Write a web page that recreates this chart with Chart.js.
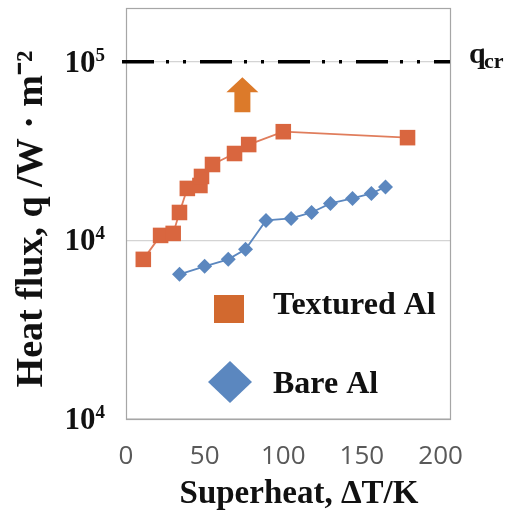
<!DOCTYPE html>
<html>
<head>
<meta charset="utf-8">
<script src="https://cdn.jsdelivr.net/npm/chart.js@4.4.1/dist/chart.umd.min.js"></script>
<style>
  html, body { margin: 0; padding: 0; background: #fff; }
  #wrap { width: 512px; height: 514px; }
</style>
</head>
<body>
<div id="wrap"><canvas id="myChart" width="512" height="514"></canvas></div>
<script>
// data
const texturedX = [11, 22, 30, 34, 39, 47, 48, 55, 69, 78, 100, 179];
const texturedY = [7830, 10660, 10940, 14330, 19540, 20290, 22800, 26600, 30650, 34400, 40600, 37600];
const bareX = [34, 50, 65, 76, 89, 105, 118, 130, 144, 156, 165];
const bareY = [6460, 7160, 7830, 8910, 12930, 13280, 14330, 16110, 17170, 18320, 19900];

const xTicks = [0, 50, 100, 150, 200];
const yTicks = [1000, 10000, 100000];
const yTickExp = ['4', '4', '5'];   // exponents as printed on the original (10^4, 10^4, 10^5)
const seriesNames = ['Textured Al', 'Bare Al'];
const qCritical = 100000;
const arrowX = 74, arrowFrom = 52100, arrowTo = 81900;

const serif = '"Liberation Serif", "Times New Roman", serif';

const toPoints = (xs, ys) => xs.map((x, i) => ({ x: x, y: ys[i] }));

const extras = {
    id: 'extras',
    beforeDatasetsDraw(chart) {
        const ctx = chart.ctx;
        const a = chart.chartArea;
        const xs = chart.scales.x, ys = chart.scales.y;
        ctx.save();
        // box
        ctx.strokeStyle = '#a6a6a6';
        ctx.lineWidth = 1.2;
        ctx.strokeRect(a.left + 0.5, a.top + 0.5, a.right - a.left, a.bottom - a.top);

        // critical heat flux line
        const yq = ys.getPixelForValue(qCritical);
        ctx.strokeStyle = '#000';
        ctx.lineWidth = 3.5;
        ctx.setLineDash([32, 12, 3, 14, 3, 14]);
        ctx.beginPath();
        ctx.moveTo(a.left - 4, yq);
        ctx.lineTo(a.right, yq);
        ctx.stroke();
        ctx.setLineDash([]);

        // arrow
        const ax = xs.getPixelForValue(arrowX);
        const yb = ys.getPixelForValue(arrowFrom);
        const yt = ys.getPixelForValue(arrowTo);
        const head = 15;
        ctx.fillStyle = '#dc7a2a';
        ctx.beginPath();
        ctx.moveTo(ax - 8, yb);
        ctx.lineTo(ax + 8, yb);
        ctx.lineTo(ax + 8, yt + head);
        ctx.lineTo(ax + 16, yt + head);
        ctx.lineTo(ax, yt);
        ctx.lineTo(ax - 16, yt + head);
        ctx.lineTo(ax - 8, yt + head);
        ctx.closePath();
        ctx.fill();
        ctx.restore();
    },
    afterDraw(chart) {
        const ctx = chart.ctx;
        const a = chart.chartArea;
        const ys = chart.scales.y;
        ctx.save();
        ctx.fillStyle = '#111';
        ctx.textBaseline = 'alphabetic';

        // y tick labels: 10 with raised exponent
        yTicks.forEach((v, i) => {
            const py = ys.getPixelForValue(v);
            ctx.textAlign = 'right';
            ctx.font = 'bold 19px ' + serif;
            const ew = ctx.measureText(yTickExp[i]).width;
            ctx.fillText(yTickExp[i], 105, py - 1);
            ctx.font = 'bold 31px ' + serif;
            ctx.fillText('10', 105 - ew, py + 10);
        });

        // q_cr label
        const yq = ys.getPixelForValue(qCritical);
        ctx.textAlign = 'left';
        ctx.font = 'bold 30px ' + serif;
        ctx.fillText('q', a.right + 19, yq + 1);
        ctx.font = 'bold 22px ' + serif;
        ctx.fillText('cr', a.right + 34, yq + 6);

        // legend
        ctx.fillStyle = '#d2692f';
        ctx.fillRect(214, 295, 30, 28);
        ctx.fillStyle = '#5b87bf';
        ctx.beginPath();
        ctx.moveTo(230, 361);
        ctx.lineTo(252, 382);
        ctx.lineTo(230, 403);
        ctx.lineTo(208, 382);
        ctx.closePath();
        ctx.fill();
        ctx.fillStyle = '#111';
        ctx.font = 'bold 32px ' + serif;
        ctx.fillText(seriesNames[0], 273, 314);
        ctx.fillText(seriesNames[1], 273, 393);

        // axis titles
        ctx.textAlign = 'center';
        ctx.font = 'bold 33px ' + serif;
        ctx.fillText('Superheat, ΔT/K', 299, 503);
        ctx.translate(42, 219);
        ctx.rotate(-Math.PI / 2);
        ctx.font = 'bold 38px ' + serif;
        ctx.fillText('Heat flux, q /W · m⁻²', 0, 0);
        ctx.restore();
    }
};

const ctx = document.getElementById('myChart').getContext('2d');
const myChart = new Chart(ctx, {
    type: 'scatter',
    data: {
        datasets: [{
            label: seriesNames[0],
            data: toPoints(texturedX, texturedY),
            showLine: true,
            borderColor: '#e07d5c',
            borderWidth: 1.8,
            backgroundColor: '#d9663f',
            pointStyle: 'rect',
            pointRadius: 11,
            pointBorderColor: '#d9663f',
            pointBorderWidth: 0
        }, {
            label: seriesNames[1],
            data: toPoints(bareX, bareY),
            showLine: true,
            borderColor: '#5b87bf',
            borderWidth: 1.8,
            backgroundColor: '#5b87bf',
            pointStyle: 'rectRot',
            pointRadius: 7.5,
            pointBorderColor: '#5b87bf',
            pointBorderWidth: 0
        }]
    },
    options: {
        responsive: false,
        animation: false,
        layout: { autoPadding: false, padding: { top: 8, right: 62, left: 0, bottom: 0 } },
        plugins: { legend: { display: false }, tooltip: { enabled: false } },
        scales: {
            x: {
                type: 'linear',
                min: 0,
                max: 206,
                afterBuildTicks: s => { s.ticks = xTicks.map(v => ({ value: v })); },
                afterFit: s => { s.height = 95; s.paddingLeft = 0; s.paddingRight = 0; },
                grid: { display: false, drawTicks: false },
                border: { display: false },
                ticks: {
                    padding: 22,
                    color: '#595959',
                    font: { family: '"Open Sans", sans-serif', size: 26 },
                    maxRotation: 0
                }
            },
            y: {
                type: 'logarithmic',
                min: 1000,
                max: 200000,
                afterBuildTicks: s => { s.ticks = yTicks.map(v => ({ value: v })); },
                afterFit: s => { s.width = 126; s.paddingTop = 0; s.paddingBottom = 0; },
                grid: { color: '#d4d4d4', lineWidth: 1.2, drawTicks: false },
                border: { display: false },
                ticks: { display: false }
            }
        }
    },
    plugins: [extras]
});
</script>
</body>
</html>
